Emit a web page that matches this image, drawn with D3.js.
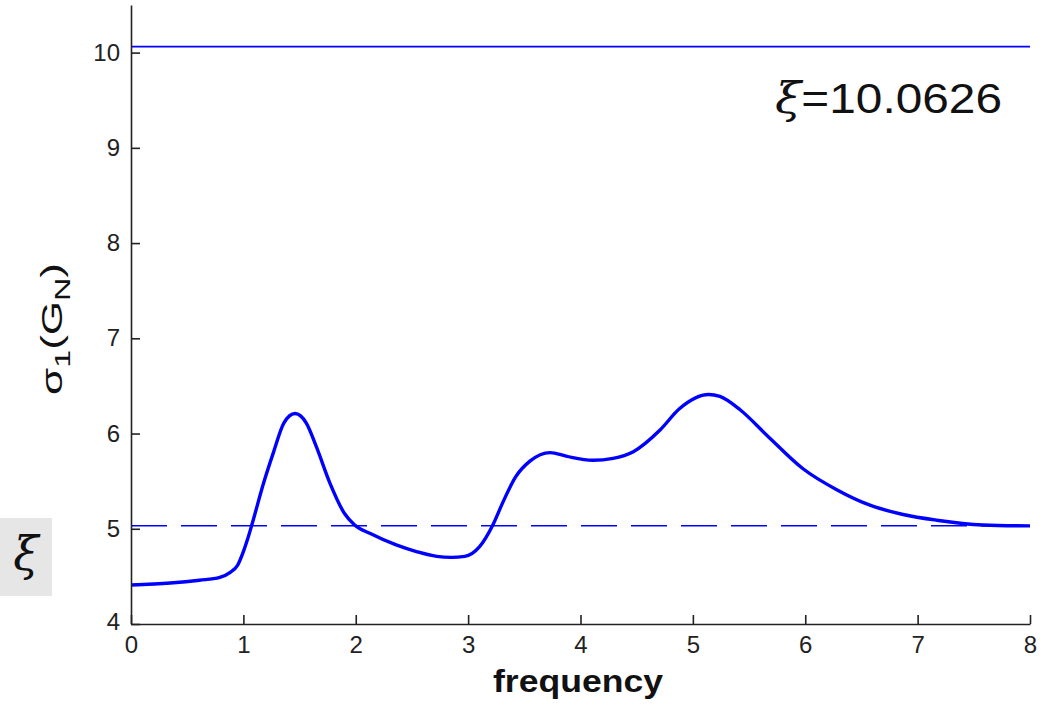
<!DOCTYPE html>
<html>
<head>
<meta charset="utf-8">
<script src="https://cdn.jsdelivr.net/npm/d3@7"></script>
<style>
  html, body { margin: 0; padding: 0; background: #fff; }
  svg { display: block; }
  .tick text { font-family: "Liberation Sans", Arial, sans-serif; }
</style>
</head>
<body>
<svg width="1056" height="706"></svg>
<script>
// values
let freq = [0, 0.35, 0.61, 0.79, 0.88, 0.95, 1.0, 1.04, 1.08, 1.18, 1.27, 1.36, 1.46, 1.56, 1.65, 1.77,
  1.90, 1.99, 2.13, 2.36, 2.54, 2.72, 2.85, 2.97, 3.10, 3.22, 3.31, 3.42, 3.55, 3.73, 3.88, 4.11,
  4.29, 4.47, 4.71, 4.88, 5.14, 5.24, 5.42, 5.66, 5.98, 6.28, 6.57, 6.87, 7.17, 7.58, 8.0];
let sigma = [4.41, 4.43, 4.46, 4.49, 4.54, 4.62, 4.76, 4.90, 5.06, 5.48, 5.81, 6.11, 6.21, 6.11, 5.86, 5.48,
  5.16, 5.04, 4.95, 4.83, 4.76, 4.71, 4.70, 4.71, 4.81, 5.04, 5.28, 5.54, 5.71, 5.80, 5.76, 5.72,
  5.74, 5.81, 6.04, 6.26, 6.41, 6.39, 6.25, 5.98, 5.63, 5.41, 5.25, 5.15, 5.09, 5.04, 5.03];
let xi = 10.0626;
let xTicks = [0, 1, 2, 3, 4, 5, 6, 7, 8];
let yTicks = [4, 5, 6, 7, 8, 9, 10];

let svg = d3.select("svg");
let x = d3.scaleLinear().domain([0, 8]).range([131, 1030]);
let y = d3.scaleLinear().domain([4, 10.5]).range([624, 5]);
let blue = "#0000ff";
let axisColor = "#222";

// boxed xi symbol on the far left
svg.append("rect")
    .attr("x", 0).attr("y", 518)
    .attr("width", 52).attr("height", 78)
    .attr("fill", "#e6e6e6");
svg.append("text")
    .attr("x", 26).attr("y", 570)
    .attr("text-anchor", "middle")
    .attr("font-family", "'DejaVu Serif', serif")
    .attr("font-style", "italic")
    .attr("font-size", 46)
    .attr("fill", "#111")
    .text("ξ");

// reference lines: xi and xi/2
svg.append("line")
    .attr("x1", x(0)).attr("x2", x(8))
    .attr("y1", y(xi)).attr("y2", y(xi))
    .attr("stroke", blue).attr("stroke-width", 1.6);
svg.append("line")
    .attr("x1", x(0)).attr("x2", x(8))
    .attr("y1", y(xi / 2)).attr("y2", y(xi / 2))
    .attr("stroke", blue).attr("stroke-width", 1.6)
    .attr("stroke-dasharray", "36,14");

// the sigma curve
let line = d3.line()
    .x(d => x(d[0]))
    .y(d => y(d[1]))
    .curve(d3.curveMonotoneX);
svg.append("path")
    .datum(d3.zip(freq, sigma))
    .attr("d", line)
    .attr("fill", "none")
    .attr("stroke", blue)
    .attr("stroke-width", 3.4)
    .attr("stroke-linejoin", "round");

// axes, inner ticks
let xAxis = svg.append("g")
    .attr("transform", "translate(0," + y(4) + ")")
    .call(d3.axisBottom(x).tickValues(xTicks).tickFormat(d3.format("d"))
        .tickSize(-9).tickPadding(12).tickSizeOuter(0));
let yAxis = svg.append("g")
    .attr("transform", "translate(" + x(0) + ",0)")
    .call(d3.axisLeft(y).tickValues(yTicks).tickFormat(d3.format("d"))
        .tickSize(-9).tickPadding(11).tickSizeOuter(0));
[xAxis, yAxis].forEach(g => {
    g.select(".domain").attr("stroke", axisColor).attr("stroke-width", 1.6);
    g.selectAll(".tick line").attr("stroke", axisColor).attr("stroke-width", 1.6);
    g.selectAll(".tick text").attr("font-size", 24).attr("fill", "#222");
});
// the "4" sits a little higher in the original
yAxis.selectAll(".tick text").filter(d => d === 4).attr("dy", "0.22em");

// annotation
let note = svg.append("text")
    .attr("x", 1002).attr("y", 113)
    .attr("text-anchor", "end")
    .attr("font-family", "'Liberation Sans', Arial, sans-serif")
    .attr("font-size", 42)
    .attr("textLength", 227)
    .attr("lengthAdjust", "spacingAndGlyphs")
    .attr("fill", "#111");
note.append("tspan").attr("font-family", "'DejaVu Serif', serif").attr("font-style", "italic").text("ξ");
note.append("tspan").text("=10.0626");

// axis titles
svg.append("text")
    .attr("x", 578).attr("y", 692)
    .attr("text-anchor", "middle")
    .attr("font-family", "'Liberation Sans', Arial, sans-serif")
    .attr("font-weight", "bold")
    .attr("font-size", 31)
    .attr("textLength", 170)
    .attr("lengthAdjust", "spacingAndGlyphs")
    .attr("fill", "#111")
    .text("frequency");

let ylab = svg.append("text")
    .attr("transform", "translate(62,329) rotate(-90)")
    .attr("text-anchor", "middle")
    .attr("font-family", "'Liberation Sans', Arial, sans-serif")
    .attr("font-size", 30)
    .attr("textLength", 132)
    .attr("lengthAdjust", "spacingAndGlyphs")
    .attr("fill", "#111");
ylab.append("tspan").text("σ");
ylab.append("tspan").attr("font-size", 22).attr("dy", 8).text("1");
ylab.append("tspan").attr("dy", -8).text("(G");
ylab.append("tspan").attr("font-size", 22).attr("dy", 8).text("N");
ylab.append("tspan").attr("dy", -8).text(")");
</script>
</body>
</html>
